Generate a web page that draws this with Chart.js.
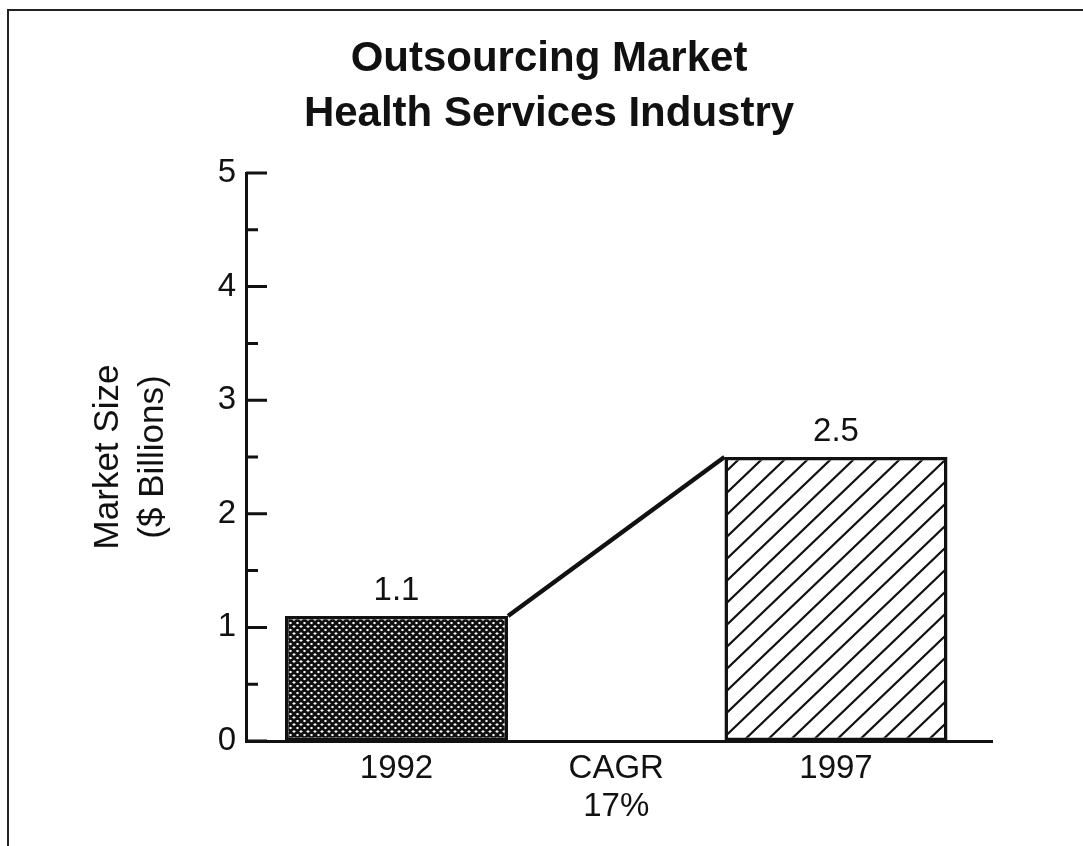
<!DOCTYPE html>
<html>
<head>
<meta charset="utf-8">
<script src="https://cdn.jsdelivr.net/npm/chart.js@4/dist/chart.umd.min.js"></script>
<style>
  html, body { margin: 0; padding: 0; background: #ffffff; }
  #wrap { width: 1083px; height: 846px; }
</style>
</head>
<body>
<div id="wrap"><canvas id="c" width="1083" height="846"></canvas></div>
<script>
// ---- data ----
const TITLE_LINES = ['Outsourcing Market', 'Health Services Industry'];
const Y_TITLE = ['Market Size', '($ Billions)'];
const CATEGORIES = ['1992', ['CAGR', '17%'], '1997'];
const CATEGORY_POS = [1, 2, 3];
const BAR_POS = [1, 3];
const BAR_VALUES = [1.1, 2.5];
const BAR_LABELS = ['1.1', '2.5'];
const Y_MIN = 0, Y_MAX = 5, Y_STEP = 1;

// ---- styles ----
const FONT = '"Liberation Sans", Arial, Helvetica, sans-serif';
const INK = '#111111';
const BAR_WIDTH = 1.015; // in category units

function crossHatch() {
  const p = 7;
  const c = document.createElement('canvas');
  c.width = p; c.height = p;
  const g = c.getContext('2d');
  g.fillStyle = '#ffffff'; g.fillRect(0, 0, p, p);
  g.strokeStyle = INK; g.lineWidth = 2.8;
  g.beginPath();
  for (const k of [0, p, 2 * p]) { g.moveTo(-p, k + p); g.lineTo(2 * p, k - 2 * p); }
  for (const k of [-p, 0, p]) { g.moveTo(-p, -p - k); g.lineTo(2 * p, 2 * p - k); }
  g.stroke();
  return g.createPattern(c, 'repeat');
}
function diagHatch() {
  const w = 23, h = 22;
  const c = document.createElement('canvas');
  c.width = w; c.height = h;
  const g = c.getContext('2d');
  g.fillStyle = '#ffffff'; g.fillRect(0, 0, w, h);
  g.strokeStyle = INK; g.lineWidth = 2.2;
  g.beginPath();
  for (const k of [0, 1, 2]) { g.moveTo(-w, h * (k + 1)); g.lineTo(2 * w, h * (k - 2)); }
  g.stroke();
  return g.createPattern(c, 'repeat');
}

const framePlugin = {
  id: 'frame',
  beforeDraw(chart) {
    const ctx = chart.ctx;
    ctx.save();
    ctx.fillStyle = '#ffffff';
    ctx.fillRect(0, 0, chart.width, chart.height);
    ctx.strokeStyle = '#222';
    ctx.lineWidth = 2;
    ctx.beginPath();
    ctx.moveTo(8, chart.height); ctx.lineTo(8, 10); ctx.lineTo(chart.width, 10);
    ctx.stroke();
    ctx.restore();
  }
};

const inwardTicks = {
  id: 'inwardTicks',
  afterDraw(chart) {
    const y = chart.scales.y;
    const x0 = chart.chartArea.left;
    const ctx = chart.ctx;
    const vals = y.ticks.map(t => t.value);
    ctx.save();
    ctx.strokeStyle = INK; ctx.lineWidth = 3; ctx.lineCap = 'butt';
    ctx.beginPath();
    vals.forEach((v, i) => {
      const py = y.getPixelForValue(v);
      ctx.moveTo(x0, py); ctx.lineTo(x0 + 21, py);
      if (i < vals.length - 1) {
        const pm = y.getPixelForValue((v + vals[i + 1]) / 2);
        ctx.moveTo(x0, pm); ctx.lineTo(x0 + 12, pm);
      }
    });
    ctx.stroke();
    ctx.restore();
  }
};

const valueLabels = {
  id: 'valueLabels',
  afterDatasetsDraw(chart) {
    const meta = chart.getDatasetMeta(0);
    const ctx = chart.ctx;
    ctx.save();
    ctx.fillStyle = INK;
    ctx.font = '33px ' + FONT;
    ctx.textAlign = 'center';
    ctx.textBaseline = 'alphabetic';
    meta.data.forEach((el, i) => {
      ctx.fillText(BAR_LABELS[i], el.x, el.y - 16);
    });
    ctx.restore();
  }
};

new Chart(document.getElementById('c'), {
  type: 'bar',
  data: {
    datasets: [
      {
        type: 'bar',
        data: BAR_POS.map((x, i) => ({ x: x, y: BAR_VALUES[i] })),
        backgroundColor: [crossHatch(), diagHatch()],
        borderColor: INK,
        borderWidth: 3.5,
        borderSkipped: false,
        categoryPercentage: BAR_WIDTH,
        barPercentage: 1,
        order: 2
      },
      {
        type: 'line',
        data: [
          { x: BAR_POS[0] + BAR_WIDTH / 2, y: BAR_VALUES[0] },
          { x: BAR_POS[1] - BAR_WIDTH / 2, y: BAR_VALUES[1] }
        ],
        borderColor: INK,
        borderWidth: 4.5,
        pointRadius: 0,
        fill: false,
        order: 1
      }
    ]
  },
  options: {
    responsive: false,
    animation: false,
    devicePixelRatio: 1,
    layout: { padding: { left: 15, right: 0, top: 0, bottom: 0 } },
    plugins: {
      legend: { display: false },
      tooltip: { enabled: false },
      title: {
        display: true,
        text: TITLE_LINES,
        color: INK,
        font: { family: FONT, size: 42, weight: 'bold', lineHeight: 55 / 42 },
        padding: { top: 31.5, bottom: 31.5 }
      }
    },
    scales: {
      x: {
        type: 'linear',
        position: 'bottom',
        min: 0.315,
        max: 3.71,
        offset: false,
        grid: { display: false, drawTicks: false, offset: false },
        border: { display: true, color: INK, width: 3 },
        afterBuildTicks: s => { s.ticks = CATEGORY_POS.map(v => ({ value: v })); },
        ticks: {
          callback: v => CATEGORIES[CATEGORY_POS.indexOf(v)],
          color: INK,
          font: { family: FONT, size: 33, lineHeight: 38 / 33 },
          padding: 9,
          maxRotation: 0,
          autoSkip: false
        },
        afterFit: s => { s.height = 105; }
      },
      y: {
        type: 'linear',
        position: 'left',
        min: Y_MIN,
        max: Y_MAX,
        grid: { display: false, drawTicks: false },
        border: { display: true, color: INK, width: 3 },
        ticks: {
          stepSize: Y_STEP,
          color: INK,
          font: { family: FONT, size: 33 },
          padding: 10
        },
        title: {
          display: true,
          text: Y_TITLE,
          color: INK,
          font: { family: FONT, size: 35, lineHeight: 45 / 35 },
          padding: { top: 70.5, bottom: 0 }
        },
        afterFit: s => { s.width = 231; }
      },
      yR: {
        type: 'linear',
        position: 'right',
        display: true,
        grid: { display: false, drawTicks: false },
        border: { display: false },
        ticks: { display: false },
        afterFit: s => { s.width = 91; }
      }
    }
  },
  plugins: [framePlugin, inwardTicks, valueLabels]
});
</script>
</body>
</html>
